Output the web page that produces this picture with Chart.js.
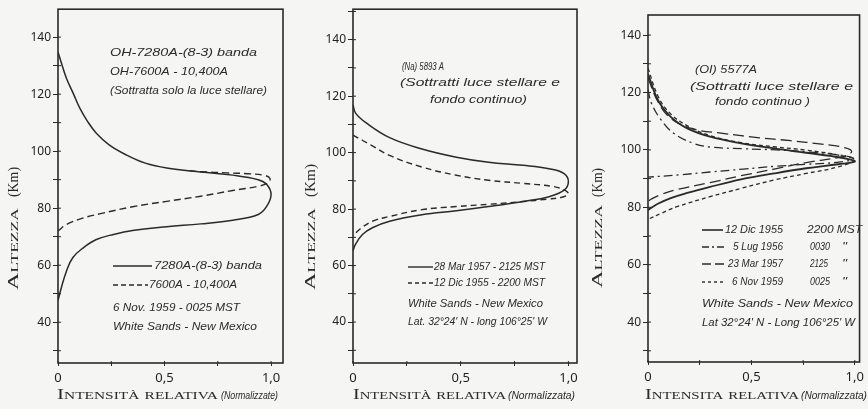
<!DOCTYPE html>
<html><head><meta charset="utf-8">
<script src="https://cdn.jsdelivr.net/npm/chart.js@4/dist/chart.umd.min.js"></script>
<style>
html,body{margin:0;padding:0;background:#f5f5f3;}
#wrap{position:relative;width:868px;height:409px;overflow:hidden;background:#f5f5f3;}
canvas{position:absolute;left:0;top:0;}
</style></head><body>
<div id="wrap">
<canvas id="c1" width="868" height="409"></canvas>
<canvas id="c2" width="868" height="409"></canvas>
<canvas id="c3" width="868" height="409"></canvas>
</div>
<script>
// ---------------- DATA (intensity = x, altitude km = y) ----------------
const yTickLabels = [40, 60, 80, 100, 120, 140];
const xTickLabels = [0, 0.5, 1.0];

// Panel 1 : OH
const p1SolidInt = [0, 0.017, 0.04, 0.072, 0.103, 0.14, 0.18, 0.24, 0.32, 0.41, 0.51, 0.67, 0.82, 0.94, 0.98, 1.0, 0.98, 0.94, 0.82, 0.67, 0.51, 0.35, 0.26, 0.18, 0.12, 0.07, 0.04, 0.016, 0];
const p1SolidAlt = [134.8, 130.7, 125.5, 120.2, 115, 110.3, 106.3, 102.2, 98.7, 95.8, 94.1, 92.7, 91.6, 90, 88.3, 84.8, 80.7, 77.8, 75.8, 74.5, 73.5, 72.2, 70.8, 69, 66.2, 62.7, 58, 52.2, 47.6];
const p1DashInt = [0, 0.04, 0.12, 0.2, 0.35, 0.51, 0.67, 0.82, 0.94, 0.985, 0.995, 0.97, 0.89, 0.79, 0.67, 0.6];
const p1DashAlt = [72, 74.3, 76.6, 78.1, 80.5, 82.4, 84.2, 86.2, 87.7, 88.9, 90.4, 91.5, 92.1, 92.4, 92.8, 93.3];

// Panel 2 : Na 5893 A
const p2SolidInt = [0, 0.012, 0.06, 0.17, 0.32, 0.48, 0.63, 0.79, 0.91, 0.98, 1.0, 0.98, 0.91, 0.79, 0.63, 0.48, 0.32, 0.17, 0.09, 0.044, 0.012, 0];
const p2SolidAlt = [117, 114, 110.6, 105.3, 101.3, 98.4, 96.6, 95.5, 94.3, 92.6, 89.7, 86.7, 84.4, 82.7, 80.9, 79.4, 78, 75.7, 73.4, 71, 67.6, 65.2];
const p2DashInt = [0, 0.09, 0.17, 0.32, 0.48, 0.63, 0.79, 0.93, 0.985, 1.0, 0.97, 0.9, 0.79, 0.63, 0.48, 0.32, 0.17, 0.09, 0.03, 0];
const p2DashAlt = [106.2, 102.4, 99, 94.9, 92, 90.2, 89.1, 88, 86.6, 85.3, 84.2, 83.5, 82.7, 81.7, 80.9, 79.8, 77.4, 75.7, 72.8, 70.5];

// Panel 3 : OI 5577 A
const p3DecInt = [0, 0.048, 0.11, 0.19, 0.30, 0.45, 0.61, 0.765, 0.89, 0.98, 1.0, 0.92, 0.765, 0.61, 0.45, 0.30, 0.19, 0.11, 0.05, 0.015, 0];
const p3DecAlt = [126.5, 117.4, 111.5, 107.5, 104.6, 102.3, 100.5, 99, 97.8, 96.6, 95.9, 95.0, 93.6, 91.8, 89.7, 87.1, 85.0, 83.2, 81.3, 79.8, 79];
const p3LugInt = [0, 0.017, 0.064, 0.126, 0.22, 0.30, 0.46, 0.62, 0.77, 0.93, 0.995, 0.93, 0.77, 0.62, 0.46, 0.30, 0.15, 0];
const p3LugAlt = [121, 116.2, 110.4, 105.7, 102.3, 101, 100.4, 100, 99.3, 98.2, 97, 95.8, 95, 94.3, 93.3, 92.3, 91.3, 90.5];
const p3MarInt = [0, 0.05, 0.11, 0.22, 0.37, 0.53, 0.69, 0.84, 0.95, 0.985, 0.95, 0.765, 0.61, 0.45, 0.30, 0.14, 0.064, 0.015, 0];
const p3MarAlt = [125, 116.5, 111, 107.3, 105.7, 104.3, 103.2, 102, 100.8, 99.4, 97.8, 95.6, 93.3, 91, 88.6, 86.2, 84.5, 82.8, 82];
const p3NovInt = [0, 0.05, 0.11, 0.2, 0.3, 0.45, 0.61, 0.765, 0.92, 1.0, 0.92, 0.765, 0.61, 0.45, 0.30, 0.14, 0.064, 0];
const p3NovAlt = [128.5, 118.5, 112.5, 108, 105, 102.5, 101.1, 99.9, 98.2, 96.5, 94.1, 91.8, 89.5, 86.6, 83.7, 80.2, 77.9, 75.8];

// ---------------- helpers ----------------
const INK = '#2a2a2a';
const pts = (xs, ys) => xs.map((x, i) => ({ x: x, y: ys[i] }));
function ds(xs, ys, dash, w) {
  return { data: pts(xs, ys), showLine: true, borderColor: INK, borderWidth: w || 1.4,
           borderDash: dash || [], pointRadius: 0, tension: 0.4, fill: false };
}
function fitText(ctx, text, font, x, y, w, align) {
  ctx.save();
  ctx.font = font;
  ctx.fillStyle = INK;
  ctx.textBaseline = 'middle';
  ctx.textAlign = 'left';
  const m = ctx.measureText(text).width;
  const sx = w / m;
  ctx.translate(align === 'center' ? x - w / 2 : x, y);
  ctx.scale(sx, 1);
  ctx.fillText(text, 0, 0);
  ctx.restore();
}
const ITAL = "italic 11.5px 'Liberation Sans'";
const SC = "small-caps 15px 'Liberation Serif'";

function makeFrame(cfg) {
  return {
    id: 'frame' + cfg.id,
    afterDraw(chart) {
      const ctx = chart.ctx, a = chart.chartArea;
      const ys = chart.scales.y, xs = chart.scales.x;
      ctx.save();
      ctx.strokeStyle = INK;
      ctx.lineWidth = 1.6;
      ctx.strokeRect(a.left, a.top, a.right - a.left, a.bottom - a.top);
      // inner tick marks
      ctx.lineWidth = 1;
      ys.ticks.forEach(t => {
        const py = ys.getPixelForValue(t.value);
        ctx.beginPath(); ctx.moveTo(a.left, py); ctx.lineTo(a.left + 3, py); ctx.stroke();
      });
      xs.ticks.forEach(t => {
        const px = xs.getPixelForValue(t.value);
        ctx.beginPath(); ctx.moveTo(px, a.bottom); ctx.lineTo(px, a.bottom - 2); ctx.stroke();
      });
      // y title (rotated)
      const yt = cfg.yTitle;
      ctx.save();
      ctx.translate(yt.x, 0);
      ctx.rotate(-Math.PI / 2);
      fitText(ctx, 'Altezza', SC, -yt.a0, 0, yt.aw);
      fitText(ctx, '(Km)', "15px 'Liberation Serif'", -yt.k0, 0, yt.kw);
      ctx.restore();
      // x title
      fitText(ctx, cfg.xTitle.t1, SC, cfg.xTitle.x1, 395, cfg.xTitle.w1);
      fitText(ctx, cfg.xTitle.t2, "italic 11px 'Liberation Sans'", cfg.xTitle.x2, 396, cfg.xTitle.w2);
      // annotations
      cfg.notes.forEach(n => fitText(ctx, n[0], ITAL, n[1], n[2], n[3]));
      // legend samples
      cfg.samples.forEach(s => {
        ctx.setLineDash(s.dash);
        ctx.lineWidth = s.w || 1.4;
        ctx.beginPath(); ctx.moveTo(s.x1, s.y); ctx.lineTo(s.x2, s.y); ctx.stroke();
      });
      ctx.setLineDash([]);
      ctx.restore();
    }
  };
}

function makeChart(cfg) {
  return new Chart(document.getElementById(cfg.id), {
    type: 'scatter',
    data: { datasets: cfg.datasets },
    options: {
      responsive: false, animation: false, devicePixelRatio: 1,
      layout: { padding: { left: cfg.padL, right: cfg.padR, top: cfg.top, bottom: 0 } },
      plugins: { legend: { display: false }, tooltip: { enabled: false } },
      scales: {
        x: {
          type: 'linear', min: 0, max: cfg.xMax,
          afterFit: s => { s.height = 409 - cfg.bottom; },
          border: { display: false },
          grid: { drawOnChartArea: false, drawTicks: true, tickLength: 3, color: INK, lineWidth: 1 },
          ticks: {
            stepSize: 0.25, includeBounds: false, autoSkip: false, maxRotation: 0, padding: 4,
            color: '#1e1e1e', font: { family: 'Noto Sans', size: 13 },
            callback: v => {
              const hit = xTickLabels.find(t => Math.abs(t - v) < 1e-6);
              if (hit === undefined) return '';
              return hit === 0 ? '0' : hit.toFixed(1).replace('.', ',');
            }
          }
        },
        y: {
          type: 'linear', min: cfg.yMin, max: cfg.yMax,
          afterFit: s => { s.width = 58; },
          border: { display: false },
          grid: { drawOnChartArea: false, drawTicks: true, tickLength: 5, color: INK, lineWidth: 1 },
          ticks: {
            stepSize: 10, includeBounds: false, autoSkip: false, padding: 2,
            color: '#1e1e1e', font: { family: 'Noto Sans', size: 12 },
            callback: v => yTickLabels.includes(v) ? String(v) : ''
          }
        }
      }
    },
    plugins: [makeFrame(cfg)]
  });
}

// ---------------- Panel 1 ----------------
makeChart({
  id: 'c1', padL: 0, padR: 868 - 283, top: 7, bottom: 363, xMax: 1.056, yMin: 25.7, yMax: 149.8,
  datasets: [ds(p1SolidInt, p1SolidAlt, [], 1.5), ds(p1DashInt, p1DashAlt, [7, 4], 1.4)],
  yTitle: { x: 14, a0: 290, aw: 82, k0: 197, kw: 30 },
  xTitle: { t1: 'Intensità relativa', x1: 57, w1: 161, t2: '(Normalizzate)', x2: 221, w2: 57 },
  notes: [
    ['OH-7280A-(8-3) banda', 110, 53, 147],
    ['OH-7600A - 10,400A', 110, 72, 118],
    ['(Sottratta solo la luce stellare)', 110, 91, 157],
    ['7280A-(8-3) banda', 154, 266, 108],
    ['7600A - 10,400A', 149, 285, 88],
    ['6 Nov. 1959 - 0025 MST', 113, 308, 127],
    ['White Sands - New Mexico', 113, 327, 144]
  ],
  samples: [
    { x1: 113, x2: 152, y: 266, dash: [] },
    { x1: 113, x2: 148, y: 285, dash: [5, 3] }
  ]
});

// ---------------- Panel 2 ----------------
makeChart({
  id: 'c2', padL: 353 - 58, padR: 868 - 577, top: 5, bottom: 363, xMax: 1.04, yMin: 25.5, yMax: 150.8,
  datasets: [ds(p2SolidInt, p2SolidAlt, [], 1.5), ds(p2DashInt, p2DashAlt, [6, 4], 1.4)],
  yTitle: { x: 311, a0: 290, aw: 82, k0: 197, kw: 33 },
  xTitle: { t1: 'Intensità relativa', x1: 353, w1: 153, t2: '(Normalizzata)', x2: 508, w2: 67 },
  notes: [
    ['(Na) 5893 A', 402, 67, 42],
    ['(Sottratti luce stellare e', 400, 83, 160],
    ['fondo continuo)', 430, 100, 97],
    ['28 Mar 1957 - 2125 MST', 434, 267, 111],
    ['12 Dic 1955 - 2200 MST', 434, 283, 111],
    ['White Sands - New Mexico', 408, 304, 135],
    ["Lat. 32°24' N - long 106°25' W", 408, 322, 139]
  ],
  samples: [
    { x1: 408, x2: 433, y: 267, dash: [] },
    { x1: 408, x2: 433, y: 283, dash: [4, 3] }
  ]
});

// ---------------- Panel 3 ----------------
makeChart({
  id: 'c3', padL: 648 - 58, padR: 1, top: 15, bottom: 362, xMax: 1.023, yMin: 26.1, yMax: 147,
  datasets: [
    ds(p3DecInt, p3DecAlt, [], 1.8),
    ds(p3LugInt, p3LugAlt, [9, 4, 2, 4], 1.3),
    ds(p3MarInt, p3MarAlt, [11, 5], 1.3),
    ds(p3NovInt, p3NovAlt, [4, 3], 1.3)
  ],
  yTitle: { x: 598, a0: 288, aw: 83, k0: 197, kw: 29 },
  xTitle: { t1: 'Intensita relativa', x1: 645, w1: 154, t2: '(Normalizzata)', x2: 801, w2: 66 },
  notes: [
    ['(OI) 5577A', 695, 70, 62],
    ['(Sottratti luce stellare e', 690, 87, 163],
    ['fondo continuo )', 715, 102, 95],
    ['12 Dic 1955', 725, 230, 58],
    ['2200 MST', 807, 230, 55],
    ['5 Lug 1956', 733, 247, 50],
    ['0030', 810, 247, 20],
    ['"', 842, 247, 5],
    ['23 Mar 1957', 728, 264, 55],
    ['2125', 810, 264, 18],
    ['"', 842, 264, 5],
    ['6 Nov 1959', 732, 282, 51],
    ['0025', 810, 282, 20],
    ['"', 842, 282, 5],
    ['White Sands - New Mexico', 702, 304, 151],
    ["Lat 32°24' N - Long 106°25' W", 702, 323, 153]
  ],
  samples: [
    { x1: 702, x2: 723, y: 230, dash: [], w: 1.6 },
    { x1: 702, x2: 724, y: 247, dash: [7, 3, 2, 3] },
    { x1: 702, x2: 726, y: 264, dash: [9, 4] },
    { x1: 702, x2: 726, y: 282, dash: [3, 3] }
  ]
});
</script>
</body></html>
